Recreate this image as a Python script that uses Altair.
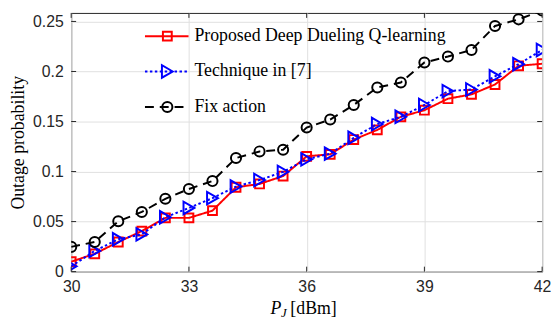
import altair as alt
import pandas as pd

# ---------------- data ----------------
x_vals = [30.0, 30.6, 31.2, 31.8, 32.4, 33.0, 33.6, 34.2, 34.8, 35.4, 36.0,
          36.6, 37.2, 37.8, 38.4, 39.0, 39.6, 40.2, 40.8, 41.4, 42.0]
proposed = [0.0099, 0.0178, 0.0296, 0.0405, 0.0537, 0.0537, 0.0609, 0.0843,
            0.0876, 0.0955, 0.1152, 0.1172, 0.1320, 0.1416, 0.1547, 0.1613,
            0.1728, 0.1771, 0.1870, 0.2057, 0.2077]
technique = [0.0053, 0.0207, 0.0323, 0.0372, 0.0543, 0.0636, 0.0734, 0.0850,
             0.0915, 0.0997, 0.1122, 0.1179, 0.1337, 0.1475, 0.1547, 0.1665,
             0.1804, 0.1820, 0.1952, 0.2073, 0.2215]
fix_action = [0.0247, 0.0296, 0.0503, 0.0596, 0.0728, 0.0826, 0.0905, 0.1135,
              0.1201, 0.1218, 0.1440, 0.1520, 0.1665, 0.1840, 0.1890, 0.2090,
              0.2149, 0.2215, 0.2455, 0.2521, 0.2610]

series_names = ["Proposed Deep Dueling Q-learning", "Technique in [7]", "Fix action"]
series_colors = ["#ff0000", "#0000ff", "#000000"]

x_ticks = [30, 33, 36, 39, 42]
y_ticks = [0, 0.05, 0.1, 0.15, 0.2, 0.25]
x_domain = [30, 42]
y_domain = [0, 0.2585]

# legend placement (data units)
legend_x1 = 31.88
legend_x2 = 32.99
legend_xm = 32.45
legend_xt = 33.14
legend_rows = [0.2353, 0.2000, 0.1645]

W, H = 477, 262
SANS = "Liberation Sans"
SERIF = "Liberation Serif"

xs = alt.Scale(domain=x_domain, nice=False, zero=False)
ys = alt.Scale(domain=y_domain, nice=False, zero=False)

X = alt.X("x:Q", scale=xs, axis=alt.Axis(
    values=x_ticks, title=None, grid=True, ticks=False, domain=False,
    labelFont=SANS, labelFontSize=16, labelColor="#262626", labelPadding=7,
    gridColor="#dfdfdf", gridWidth=1, labelFlush=False))
Y = alt.Y("y:Q", scale=ys, axis=alt.Axis(
    values=y_ticks, format="~g", title="Outage probability", grid=True,
    ticks=False, domain=False, labelFont=SANS, labelFontSize=16,
    labelColor="#262626", labelPadding=8, gridColor="#dfdfdf", gridWidth=1,
    titleFont=SERIF, titleFontSize=18, titleFontWeight="normal",
    titleColor="#000000", titleX=-53, titleY=H / 2, titleAngle=270,
    titleAlign="center", titleBaseline="middle", labelFlush=False))


def series_df(vals):
    return pd.DataFrame({"x": x_vals, "y": vals})


styles = [
    dict(dash=[1, 0], shape="square", size=80),
    dict(dash=[2.5, 2.5], shape="triangle-right", size=160),
    dict(dash=[9, 6], shape="circle", size=105),
]

layers = []
for vals, col, st in zip([proposed, technique, fix_action], series_colors, styles):
    d = series_df(vals)
    layers.append(alt.Chart(d).mark_line(
        color=col, strokeWidth=2, strokeDash=st["dash"], clip=True).encode(x=X, y=Y))
    layers.append(alt.Chart(d).mark_point(
        shape=st["shape"], size=st["size"], filled=False, color=col,
        strokeWidth=2, opacity=1, clip=True).encode(x=X, y=Y))

# legend (drawn through the data scales)
for name, col, st, ry in zip(series_names, series_colors, styles, legend_rows):
    ld = pd.DataFrame({"x": [legend_x1], "x2": [legend_x2], "y": [ry]})
    layers.append(alt.Chart(ld).mark_rule(
        color=col, strokeWidth=2, strokeDash=st["dash"]).encode(
        x=X, x2="x2:Q", y=Y))
    md = pd.DataFrame({"x": [legend_xm], "y": [ry]})
    layers.append(alt.Chart(md).mark_point(
        shape=st["shape"], size=st["size"], filled=False, color=col,
        strokeWidth=2, opacity=1).encode(x=X, y=Y))

td = pd.DataFrame({"x": [legend_xt] * 3, "y": legend_rows, "t": series_names})
layers.append(alt.Chart(td).mark_text(
    align="left", baseline="middle", font=SERIF, fontSize=18, color="#000000").encode(
    x=X, y=Y, text="t:N"))

# inward tick marks on all four sides
xt = pd.DataFrame({"x": x_ticks})
yt = pd.DataFrame({"y": y_ticks})
layers.append(alt.Chart(xt).mark_rule(color="#262626", strokeWidth=1).encode(
    x=X, y=alt.value(H), y2=alt.value(H - 5)))
layers.append(alt.Chart(xt).mark_rule(color="#262626", strokeWidth=1).encode(
    x=X, y=alt.value(0), y2=alt.value(5)))
layers.append(alt.Chart(yt).mark_rule(color="#262626", strokeWidth=1).encode(
    y=Y, x=alt.value(0), x2=alt.value(5)))
layers.append(alt.Chart(yt).mark_rule(color="#262626", strokeWidth=1).encode(
    y=Y, x=alt.value(W), x2=alt.value(W - 5)))

# x-axis title: P_J [dBm]
tp = pd.DataFrame({"t": ["P"]})
layers.append(alt.Chart(tp).mark_text(
    align="right", baseline="alphabetic", font=SERIF, fontSize=18,
    fontStyle="italic", color="#000000").encode(
    x=alt.value(213), y=alt.value(305), text="t:N"))
tj = pd.DataFrame({"t": ["J"]})
layers.append(alt.Chart(tj).mark_text(
    align="left", baseline="alphabetic", font=SERIF, fontSize=13,
    fontStyle="italic", color="#000000").encode(
    x=alt.value(212.5), y=alt.value(308), text="t:N"))
tu = pd.DataFrame({"t": ["[dBm]"]})
layers.append(alt.Chart(tu).mark_text(
    align="left", baseline="alphabetic", font=SERIF, fontSize=18,
    color="#000000").encode(
    x=alt.value(222), y=alt.value(305), text="t:N"))

chart = alt.layer(*layers).properties(
    width=W, height=H,
    autosize=alt.AutoSizeParams(type="none"),
    padding={"left": 64, "top": 3, "right": 10, "bottom": 47},
    background="#ffffff",
).configure_view(stroke="#262626", strokeWidth=1)

chart.save("out.html", embed_options={"renderer": "svg", "actions": False})
